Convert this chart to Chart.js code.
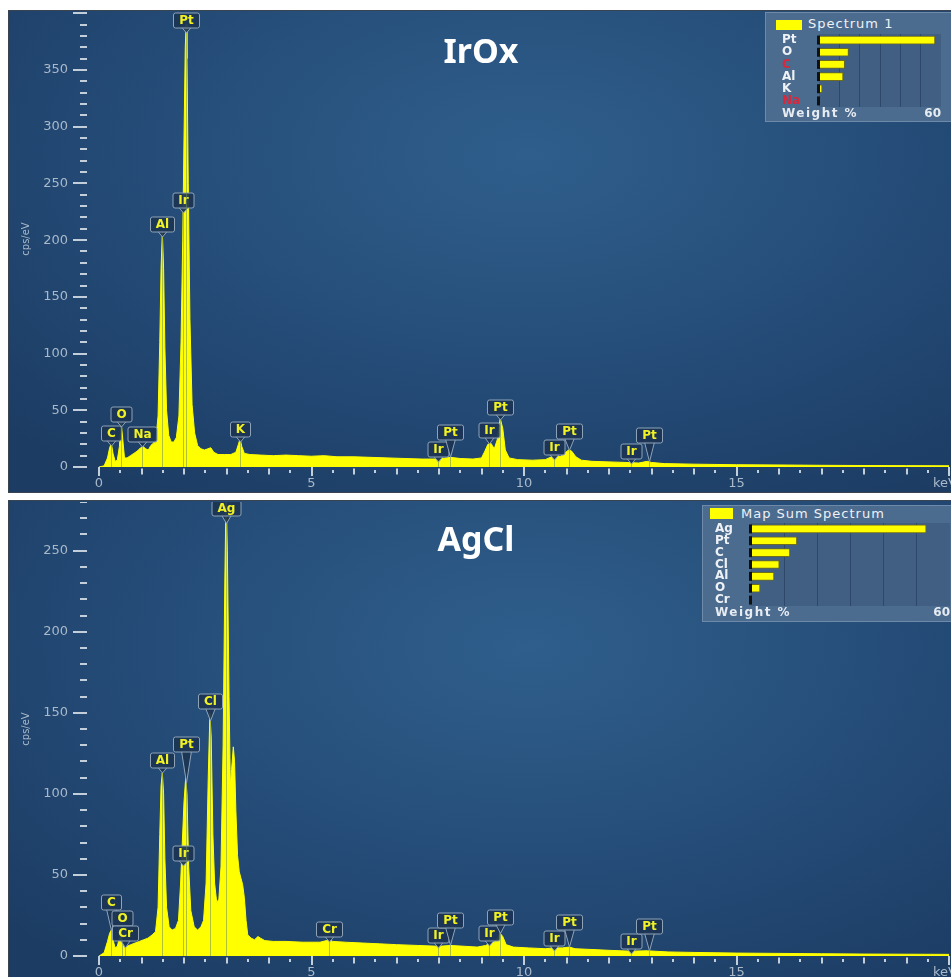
<!DOCTYPE html>
<html>
<head>
<meta charset="utf-8">
<script src="https://cdn.jsdelivr.net/npm/chart.js@4.4.1/dist/chart.umd.min.js"></script>
<style>
  html, body { margin: 0; padding: 0; width: 951px; height: 977px; overflow: hidden; background: #fff; }
  .panel {
    position: absolute; box-sizing: border-box; border: 1px solid #3a4450;
    background: radial-gradient(ellipse 75% 85% at 55% 30%, #2f5e8c 0%, #29537f 35%, #224873 65%, #1c3c63 100%);
  }
  canvas { position: absolute; }
  .title {
    position: absolute; color: #fff; font: bold 34px "Noto Sans", sans-serif; line-height: 1;
    transform: translate(-50%, -50%); white-space: nowrap;
  }
  .inset { position: absolute; box-sizing: border-box; background: #4b6b8f; border: 1px solid #6f8aa8; }
  .swatch { position: absolute; background: #ffff00; }
  .head { position: absolute; color: #eef2f6; font: 13px "DejaVu Sans", sans-serif; letter-spacing: 1px; line-height: 14px; white-space: nowrap; }
  .foot { position: absolute; color: #e6ecf2; font: bold 12px "DejaVu Sans", sans-serif; letter-spacing: 1.5px; line-height: 14px; white-space: nowrap; }
</style>
</head>
<body>

<div class="panel" style="left:8px;top:10px;width:944px;height:483px"></div>
<div class="panel" style="left:8px;top:500px;width:944px;height:490px"></div>

<canvas id="irChart" width="942" height="481" style="left:9px;top:11px;width:942px;height:481px"></canvas>
<canvas id="agChart" width="942" height="490" style="left:9px;top:502px;width:942px;height:490px"></canvas>

<div class="title" style="left:481px;top:50px">IrOx</div>
<div class="title" style="left:476px;top:538px">AgCl</div>

<div class="inset" style="left:765px;top:12px;width:200px;height:110px"></div>
<div class="swatch" style="left:776px;top:20px;width:26px;height:10px"></div>
<div class="head" style="left:808px;top:17px">Spectrum 1</div>
<canvas id="irWeight" width="169" height="91" style="left:782px;top:30px;width:169px;height:91px"></canvas>
<div class="foot" style="left:782px;top:106px">Weight %</div>

<div class="inset" style="left:702px;top:505px;width:260px;height:117px"></div>
<div class="swatch" style="left:710px;top:508px;width:23px;height:11px"></div>
<div class="head" style="left:741px;top:507px">Map Sum Spectrum</div>
<canvas id="agWeight" width="236" height="101" style="left:715px;top:519px;width:236px;height:101px"></canvas>
<div class="foot" style="left:715px;top:605px">Weight %</div>

<script>
// ---- IrOx spectrum (keV, cps/eV) ----
const irEnergy = [
  0.00, 0.12, 0.20, 0.25, 0.29, 0.33, 0.38, 0.43, 0.48, 0.52, 0.56, 0.60, 0.66, 0.74, 0.82, 0.90,
  0.98, 1.04, 1.10, 1.16, 1.22, 1.28, 1.34, 1.39, 1.43, 1.46, 1.49, 1.52, 1.55, 1.59, 1.64, 1.70,
  1.76, 1.82, 1.88, 1.93, 1.97, 2.00, 2.03, 2.05, 2.07, 2.10, 2.14, 2.19, 2.25, 2.32, 2.40, 2.48,
  2.56, 2.63, 2.70, 2.80, 2.95, 3.10, 3.22, 3.28, 3.32, 3.36, 3.42, 3.55, 3.80, 4.10, 4.40, 4.70,
  5.00, 5.30, 5.60, 6.00, 6.40, 6.80, 7.20, 7.60, 8.00, 8.27, 8.50, 8.80, 9.00, 9.08, 9.15, 9.22,
  9.30, 9.37, 9.44, 9.50, 9.56, 9.65, 9.85, 10.20, 10.50, 10.65, 10.75, 10.85, 10.95, 11.05, 11.12, 11.22,
  11.35, 11.60, 12.00, 12.40, 12.70, 12.90, 13.00, 13.30, 14.00, 15.00, 16.00, 17.00, 18.00, 19.00, 20.00
];
const irCounts = [
  0, 1, 8, 17, 21, 12, 5, 6, 18, 40, 24, 8, 8, 10, 12, 14,
  17, 18, 16, 15, 19, 21, 25, 45, 110, 175, 207, 175, 105, 50, 28, 22,
  22, 26, 45, 110, 200, 290, 370, 390, 360, 250, 130, 55, 30, 19, 16, 15,
  16, 17, 13, 11, 11, 11, 13, 20, 25, 18, 12, 11, 10.5, 10, 10.5, 10,
  9.5, 10, 9, 9, 8.5, 8, 7.5, 7, 7, 8.5, 7.5, 7, 8, 14, 20, 21,
  16, 24, 43, 34, 15, 8, 6.5, 6, 6.5, 9, 10, 9, 12, 15, 14, 9,
  6, 5, 4.5, 4, 3.5, 5, 4, 3, 2.5, 2, 1.8, 1.5, 1.3, 1.2, 1.1
];

// ---- AgCl spectrum (keV, cps/eV) ----
const agEnergy = [
  0.00, 0.12, 0.20, 0.25, 0.29, 0.33, 0.38, 0.43, 0.48, 0.52, 0.56, 0.60, 0.66, 0.75, 0.85, 0.95,
  1.05, 1.15, 1.25, 1.33, 1.39, 1.43, 1.46, 1.49, 1.52, 1.55, 1.59, 1.65, 1.72, 1.80, 1.87, 1.92,
  1.96, 2.00, 2.04, 2.07, 2.11, 2.16, 2.24, 2.32, 2.40, 2.46, 2.52, 2.57, 2.61, 2.64, 2.68, 2.72,
  2.77, 2.82, 2.87, 2.92, 2.96, 2.99, 3.02, 3.06, 3.09, 3.12, 3.16, 3.19, 3.22, 3.26, 3.30, 3.34,
  3.38, 3.42, 3.46, 3.50, 3.58, 3.66, 3.74, 3.80, 3.90, 4.10, 4.40, 4.80, 5.20, 5.35, 5.42, 5.50,
  5.80, 6.20, 6.60, 7.00, 7.50, 8.00, 8.27, 8.60, 8.90, 9.10, 9.20, 9.30, 9.38, 9.44, 9.50, 9.58,
  9.75, 10.10, 10.50, 10.70, 10.90, 11.07, 11.20, 11.60, 12.00, 12.50, 12.90, 13.40, 14.00, 15.00, 16.00, 17.00,
  18.00, 19.00, 20.00
];
const agCounts = [
  0, 2, 9, 14, 16, 10, 5, 6, 11, 13, 8, 5, 6, 7, 8, 9,
  10, 11, 13, 15, 30, 75, 105, 113, 100, 60, 30, 18, 16, 17, 22, 45,
  70, 95, 110, 100, 55, 28, 18, 16, 18, 22, 45, 110, 150, 135, 75, 45,
  33, 35, 55, 130, 230, 285, 250, 160, 105, 115, 129, 120, 90, 62, 52, 48,
  44, 36, 22, 13, 11, 10, 12, 11, 9.5, 9, 9, 8.5, 8.5, 9.5, 10, 9,
  8.5, 8, 7.5, 7, 6.5, 6, 6.5, 6, 5.5, 6.5, 8, 8.5, 11, 14, 12, 7,
  5.5, 5, 4.5, 5, 5, 5.5, 4.5, 4, 3.5, 3, 3.2, 2.5, 2.2, 1.8, 1.6, 1.4,
  1.2, 1.1, 1.0
];

// ---- peak markers: element, line energy (keV), marker level (cps/eV) ----
const irPeakNames = ['C', 'O', 'Na', 'Al', 'Ir', 'Pt', 'K', 'Ir', 'Pt', 'Ir', 'Pt', 'Ir', 'Pt', 'Ir', 'Pt'];
const irPeakKeV   = [0.28, 0.52, 1.02, 1.49, 1.98, 2.05, 3.31, 7.98, 8.27, 9.17, 9.44, 10.71, 11.07, 12.51, 12.94];
const irPeakLevel = [30, 47, 29.5, 214, 235, 394, 33.5, 16.3, 30.5, 33, 52.5, 18, 32, 13.7, 27.8];

const agPeakNames = ['C', 'O', 'Cr', 'Al', 'Ir', 'Pt', 'Cl', 'Ag', 'Cr', 'Ir', 'Pt', 'Ir', 'Pt', 'Ir', 'Pt', 'Ir', 'Pt'];
const agPeakKeV   = [0.28, 0.54, 0.6, 1.49, 1.98, 2.05, 2.62, 2.98, 5.41, 7.98, 8.27, 9.17, 9.44, 10.71, 11.07, 12.51, 12.94];
const agPeakLevel = [33, 23.5, 13.9, 120.7, 63.3, 130.5, 157, 276, 16.4, 13, 22.2, 13.9, 24, 10.8, 20.7, 9, 18.8];

// ---- axis tick labels ----
const xTicks   = [0, 5, 10, 15];
const irYTicks = [0, 50, 100, 150, 200, 250, 300, 350];
const agYTicks = [0, 50, 100, 150, 200, 250];

// ---- weight % insets ----
const irElements = ['Pt', 'O', 'C', 'Al', 'K', 'Na'];
const irWeights  = [57.0, 14.5, 12.6, 11.8, 1.5, 0.3];
const agElements = ['Ag', 'Pt', 'C', 'Cl', 'Al', 'O', 'Cr'];
const agWeights  = [52.8, 13.8, 11.7, 8.5, 6.9, 2.7, 0.2];
const weightTicks = [0, 10, 20, 30, 40, 50, 60];


const axisText = '#a9b9ca';
const tickFont = { family: 'DejaVu Sans', size: 13 };

function valueAt(energy, counts, e) {
  for (let i = 1; i < energy.length; i++) {
    if (energy[i] >= e) {
      const t = (e - energy[i - 1]) / (energy[i] - energy[i - 1]);
      return counts[i - 1] + t * (counts[i] - counts[i - 1]);
    }
  }
  return counts[counts.length - 1];
}

// tick marks, "keV" and the peak marker boxes
const spectrumDecor = {
  id: 'spectrumDecor',
  afterDatasetsDraw(chart, args, o) {
    const { ctx, chartArea, scales: { x, y } } = chart;
    const left = chartArea.left, bottom = chartArea.bottom;
    ctx.save();

    ctx.strokeStyle = '#c3cedb';
    ctx.lineWidth = 2;
    ctx.beginPath();
    for (let v = 0; v <= y.max; v += 10) {
      const py = Math.round(y.getPixelForValue(v));
      const len = v % 50 === 0 ? 14 : 7;
      ctx.moveTo(left - 12 - len, py);
      ctx.lineTo(left - 12, py);
    }
    for (let k = 0; k <= 40; k++) {
      const px = Math.round(x.getPixelForValue(k / 2));
      const half = k % 10 === 0 ? 4.5 : (k % 2 === 0 ? 3 : 1.5);
      ctx.moveTo(px, bottom + 4.5 - half);
      ctx.lineTo(px, bottom + 4.5 + half);
    }
    ctx.stroke();

    ctx.fillStyle = axisText;
    ctx.font = '13px "DejaVu Sans"';
    ctx.textAlign = 'center';
    ctx.textBaseline = 'middle';
    ctx.fillText('keV', x.getPixelForValue(20) - 4, bottom + 17);

    ctx.font = 'bold 12px "DejaVu Sans"';
    const base = y.getPixelForValue(0);
    o.names.forEach((name, i) => {
      const cx = Math.round(x.getPixelForValue(o.keV[i])) + 0.5;
      const cy = Math.round(y.getPixelForValue(o.level[i])) + 0.5;
      const w = Math.round(ctx.measureText(name).width + 11);
      const h = 15;
      const top = cy - h / 2, bot = cy + h / 2;
      const sy = y.getPixelForValue(valueAt(o.energy, o.counts, o.keV[i]));
      const tip = Math.max(sy, bot + 5);

      ctx.strokeStyle = 'rgba(110,140,95,0.55)';
      ctx.lineWidth = 1;
      ctx.beginPath();
      ctx.moveTo(cx, tip);
      ctx.lineTo(cx, base);
      ctx.stroke();

      ctx.fillStyle = 'rgba(28,52,84,0.92)';
      ctx.strokeStyle = '#8ea3b8';
      ctx.beginPath();
      ctx.moveTo(cx - 5, bot - 1);
      ctx.lineTo(cx, tip);
      ctx.lineTo(cx + 5, bot - 1);
      ctx.closePath();
      ctx.fill();
      ctx.stroke();

      ctx.beginPath();
      ctx.roundRect(cx - w / 2, top, w, h, 2);
      ctx.fill();
      ctx.stroke();

      ctx.fillStyle = '#f2f222';
      ctx.textAlign = 'center';
      ctx.textBaseline = 'middle';
      ctx.fillText(name, cx, cy + 0.5);
    });
    ctx.restore();
  }
};

function spectrumChart(id, energy, counts, yMax, yTicks, names, keV, level, xAxisHeight) {
  return new Chart(document.getElementById(id), {
    type: 'line',
    data: {
      datasets: [{
        data: energy.map((e, i) => ({ x: e, y: counts[i] })),
        borderColor: '#ffff00',
        backgroundColor: '#ffff00',
        borderWidth: 1,
        pointRadius: 0,
        tension: 0,
        fill: 'origin'
      }]
    },
    options: {
      responsive: false,
      animation: false,
      devicePixelRatio: 1,
      layout: { padding: { right: 2 } },
      plugins: {
        legend: { display: false },
        tooltip: { enabled: false },
        spectrumDecor: { names, keV, level, energy, counts }
      },
      scales: {
        x: {
          type: 'linear', min: 0, max: 20,
          afterBuildTicks: s => { s.ticks = xTicks.map(v => ({ value: v })); },
          afterFit: s => { s.height = xAxisHeight; s.paddingLeft = 0; s.paddingRight = 0; },
          grid: { display: false, drawTicks: false },
          border: { display: false },
          ticks: { padding: 9, color: axisText, font: tickFont, maxRotation: 0, autoSkip: false }
        },
        y: {
          type: 'linear', min: 0, max: yMax,
          afterBuildTicks: s => { s.ticks = yTicks.map(v => ({ value: v })); },
          afterFit: s => { s.width = 90; s.paddingTop = 0; s.paddingBottom = 0; },
          grid: { display: false, drawTicks: false },
          border: { display: false },
          ticks: { padding: 31, color: axisText, font: tickFont, autoSkip: false },
          title: {
            display: true, text: 'cps/eV', color: axisText,
            font: { family: 'DejaVu Sans', size: 10 }, padding: { top: 11, bottom: 0 }
          }
        }
      }
    },
    plugins: [spectrumDecor]
  });
}

spectrumChart('irChart', irEnergy, irCounts, 402, irYTicks, irPeakNames, irPeakKeV, irPeakLevel, 25);
spectrumChart('agChart', agEnergy, agCounts, 280, agYTicks, agPeakNames, agPeakKeV, agPeakLevel, 36);


// inset: darker plot area and the black zero markers
const insetDecor = {
  id: 'insetDecor',
  beforeDraw(chart) {
    const { ctx, chartArea: a } = chart;
    ctx.save();
    ctx.fillStyle = 'rgba(30,55,90,0.22)';
    ctx.fillRect(a.left, a.top, a.right - a.left, a.bottom - a.top);
    ctx.restore();
  },
  afterDatasetsDraw(chart) {
    const { ctx, scales: { x, y } } = chart;
    const x0 = x.getPixelForValue(0);
    ctx.save();
    ctx.fillStyle = '#101010';
    chart.data.labels.forEach((l, i) => {
      const yc = y.getPixelForValue(i);
      ctx.fillRect(x0 - 2, yc - 4.5, 3, 9);
    });
    ctx.restore();
  }
};

function insetChart(id, elements, weights, labelColor, axisWidth, padRight) {
  const font = { family: 'DejaVu Sans', size: 12, weight: 'bold', lineHeight: 1 };
  return new Chart(document.getElementById(id), {
    type: 'bar',
    data: {
      labels: elements,
      datasets: [{
        data: weights,
        backgroundColor: '#ffff00',
        borderColor: '#6d6d1c',
        borderWidth: 1,
        barThickness: 8
      }]
    },
    options: {
      indexAxis: 'y',
      responsive: false,
      animation: false,
      devicePixelRatio: 1,
      layout: { padding: { top: 4, right: padRight } },
      plugins: { legend: { display: false }, tooltip: { enabled: false } },
      scales: {
        x: {
          min: 0, max: 60,
          afterBuildTicks: s => { s.ticks = weightTicks.map(v => ({ value: v })); },
          afterFit: s => { s.height = 14; s.paddingLeft = 0; s.paddingRight = 0; },
          grid: {
            drawTicks: false, lineWidth: 1,
            color: c => (c.tick && (c.tick.value === 0 || c.tick.value === 60)) ? 'rgba(0,0,0,0)' : 'rgba(25,45,75,0.45)'
          },
          border: { display: false },
          ticks: {
            callback: v => v === 60 ? '60' : '',
            align: 'end', padding: 1, color: '#e6ecf2', font, maxRotation: 0, autoSkip: false
          }
        },
        y: {
          afterFit: s => { s.width = axisWidth; s.paddingTop = 0; s.paddingBottom = 0; },
          grid: { display: false, drawTicks: false },
          border: { display: false },
          ticks: { crossAlign: 'far', padding: 0, color: labelColor, font, autoSkip: false }
        }
      }
    },
    plugins: [insetDecor]
  });
}

insetChart('irWeight', irElements, irWeights,
  c => (irElements[c.index] === 'C' || irElements[c.index] === 'Na') ? '#d8283c' : '#eef2f6', 37, 10);
insetChart('agWeight', agElements, agWeights, '#eef2f6', 36, 1);
</script>
</body>
</html>
